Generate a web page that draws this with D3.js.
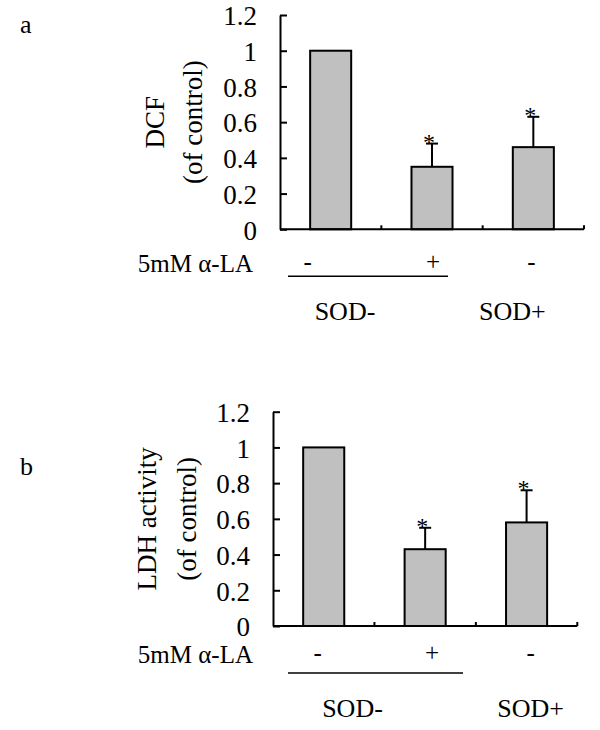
<!DOCTYPE html>
<html>
<head>
<meta charset="utf-8">
<script src="https://cdn.jsdelivr.net/npm/d3@7"></script>
<style>
  html, body { margin: 0; padding: 0; background: #ffffff; }
  svg { display: block; }
</style>
</head>
<body>
<svg id="chart" width="600" height="730"></svg>
<script>
// ---- data ----
const categories = ["SOD- / α-LA-", "SOD- / α-LA+", "SOD+ / α-LA-"];
const laSigns = ["-", "+", "-"];
const dcfMeans = [1, 0.35, 0.46];
const dcfErrors = [0, 0.13, 0.17];
const ldhMeans = [1, 0.43, 0.58];
const ldhErrors = [0, 0.12, 0.18];
const significant = [false, true, true];
const yTicks = [0, 0.2, 0.4, 0.6, 0.8, 1, 1.2];
const groupLabels = ["SOD-", "SOD+"];
const rowLabel = "5mM α-LA";
const panelLetters = ["a", "b"];
const titlesA = ["DCF", "(of control)"];
const titlesB = ["LDH activity", "(of control)"];

const FONT = "'Liberation Serif', 'DejaVu Serif', serif";
const svg = d3.select("#chart");

function txt(g) {
  return g.append("text").style("font-family", FONT).style("fill", "#000");
}

function panel(cfg) {
  const g = svg.append("g");
  const y = d3.scaleLinear().domain([0, 1.2]).range([cfg.bottom, cfg.top]);
  const x = d3.scaleBand().domain(categories).range([cfg.left, cfg.right]).padding(0);
  const bw = x.bandwidth() * 0.405;
  const cx = c => x(c) + x.bandwidth() / 2;

  txt(g).attr("x", 20).attr("y", cfg.letterY).style("font-size", "26px").text(cfg.letter);

  const yAxis = d3.axisLeft(y).tickValues(yTicks).tickSizeInner(-7).tickSizeOuter(0)
    .tickPadding(23).tickFormat(d => String(d));
  const ya = g.append("g").attr("transform", `translate(${cfg.left},0)`).call(yAxis);
  ya.select(".domain").attr("stroke", "#000").attr("stroke-width", 2);
  ya.selectAll(".tick line").attr("stroke", "#000").attr("stroke-width", 2);
  ya.selectAll(".tick text").style("font-size", "27px").style("font-family", FONT)
    .style("fill", "#000").attr("dy", "0.36em");

  const midY = (cfg.top + cfg.bottom) / 2;
  cfg.titles.forEach((t, i) => {
    txt(g).attr("transform", `translate(${cfg.titleX[i]},${midY}) rotate(-90)`)
      .attr("text-anchor", "middle").attr("dominant-baseline", "central")
      .style("font-size", "27px").text(t);
  });

  g.selectAll("rect.bar").data(categories).enter().append("rect")
    .attr("x", c => cx(c) - bw / 2)
    .attr("y", (c, i) => y(cfg.means[i]))
    .attr("width", bw)
    .attr("height", (c, i) => y(0) - y(cfg.means[i]))
    .attr("fill", "#c0c0c0").attr("stroke", "#000").attr("stroke-width", 2);

  categories.forEach((c, i) => {
    if (cfg.errors[i] <= 0) return;
    const top = y(cfg.means[i] + cfg.errors[i]);
    g.append("line").attr("x1", cx(c)).attr("x2", cx(c))
      .attr("y1", y(cfg.means[i])).attr("y2", top)
      .attr("stroke", "#000").attr("stroke-width", 2);
    g.append("line").attr("x1", cx(c) - 6).attr("x2", cx(c) + 6)
      .attr("y1", top).attr("y2", top)
      .attr("stroke", "#000").attr("stroke-width", 2);
    if (significant[i]) {
      txt(g).attr("x", cx(c) - 3).attr("y", top + 6)
        .attr("text-anchor", "middle").style("font-size", "24px").text("*");
    }
  });

  g.append("line").attr("x1", cfg.left).attr("x2", cfg.right)
    .attr("y1", y(0)).attr("y2", y(0)).attr("stroke", "#000").attr("stroke-width", 2);
  categories.forEach(c => {
    const bx = x(c) + x.bandwidth();
    g.append("line").attr("x1", bx).attr("x2", bx)
      .attr("y1", y(0)).attr("y2", y(0) - 4)
      .attr("stroke", "#000").attr("stroke-width", 2);
  });

  const rowY = y(0) + cfg.rowOffset;
  txt(g).attr("x", 253).attr("y", rowY).attr("text-anchor", "end")
    .style("font-size", "25px").text(rowLabel);
  categories.forEach((c, i) => {
    txt(g).attr("x", cx(c) + cfg.signDx[i]).attr("y", rowY - 2)
      .attr("text-anchor", "middle").style("font-size", "25px").text(laSigns[i]);
  });

  g.append("line").attr("x1", 288).attr("x2", cfg.underlineEnd)
    .attr("y1", y(0) + 47).attr("y2", y(0) + 47)
    .attr("stroke", "#000").attr("stroke-width", 1.5);

  txt(g).attr("x", (288 + cfg.underlineEnd) / 2 - 23).attr("y", y(0) + 91)
    .attr("text-anchor", "middle").style("font-size", "26px").text(groupLabels[0]);
  txt(g).attr("x", cx(categories[2]) + cfg.sodPlusDx).attr("y", y(0) + 91)
    .attr("text-anchor", "middle").style("font-size", "26px").text(groupLabels[1]);
}

panel({
  letter: panelLetters[0], letterY: 33,
  top: 15, bottom: 229.3, left: 280, right: 584,
  means: dcfMeans, errors: dcfErrors,
  titles: titlesA, titleX: [155, 193],
  rowOffset: 43, underlineEnd: 448,
  signDx: [-23, 1, -2], sodPlusDx: -21
});
panel({
  letter: panelLetters[1], letterY: 475,
  top: 411.7, bottom: 626, left: 273, right: 577.3,
  means: ldhMeans, errors: ldhErrors,
  titles: titlesB, titleX: [147, 187],
  rowOffset: 37, underlineEnd: 463,
  signDx: [-6, 7, 4], sodPlusDx: 4
});
</script>
</body>
</html>
